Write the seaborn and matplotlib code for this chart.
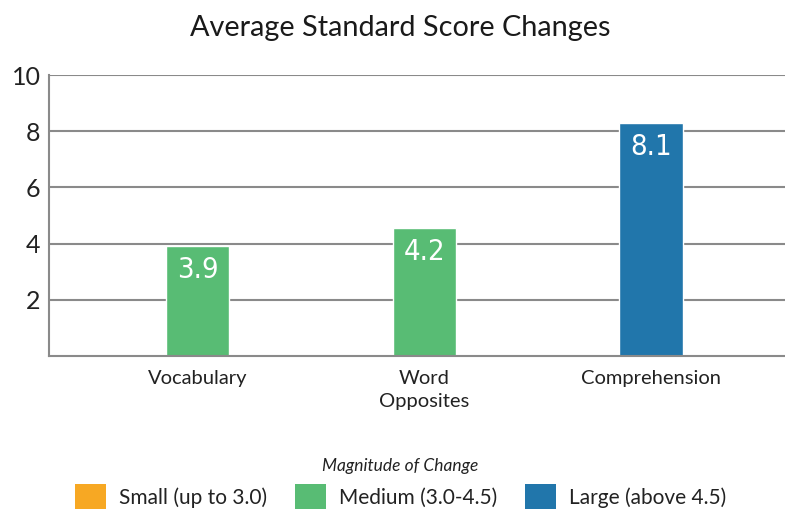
import matplotlib
matplotlib.use("Agg")
import matplotlib.pyplot as plt
from matplotlib.patches import Patch
import pandas as pd
import seaborn as sns

# values
categories = ["Vocabulary", "Word\nOpposites", "Comprehension"]
bar_heights = [3.9, 4.55, 8.3]
score_labels = ["3.9", "4.2", "8.1"]
magnitude = ["Medium (3.0-4.5)", "Medium (3.0-4.5)", "Large (above 4.5)"]
legend_levels = ["Small (up to 3.0)", "Medium (3.0-4.5)", "Large (above 4.5)"]
level_colors = ["#F7A823", "#58BC74", "#2176AB"]
y_ticks = [2, 4, 6, 8, 10]

sns.set_theme(style="white")
plt.rcParams["font.family"] = ["Lato", "DejaVu Sans"]

df = pd.DataFrame({"test": categories, "score": bar_heights, "magnitude": magnitude})
palette = dict(zip(legend_levels, level_colors))

fig = plt.figure(figsize=(7.85, 5.15), dpi=100)
ax = fig.add_axes([0.0624, 0.309, 0.9376, 0.545])
sns.barplot(data=df, x="test", y="score", hue="magnitude", hue_order=legend_levels,
            palette=palette, dodge=False, width=0.28, saturation=1,
            legend=False, ax=ax)

# value labels sit inside the top of each bar
for i, (h, lab) in enumerate(zip(bar_heights, score_labels)):
    ax.annotate(lab, (i, h), xytext=(0, -7), textcoords="offset points",
                ha="center", va="top", color="white", fontsize=21,
                family="DejaVu Sans", stretch="condensed")

ax.set_xlim(-0.656, 2.59)
ax.set_ylim(0, 10)
ax.set_yticks(y_ticks)
ax.yaxis.grid(True, color="#8a8a8a", lw=1.5)
ax.set_axisbelow(True)
for s in ["top", "right"]:
    ax.spines[s].set_visible(False)
for s in ["left", "bottom"]:
    ax.spines[s].set_color("#8a8a8a")
    ax.spines[s].set_linewidth(1.5)
ax.set_xlabel("")
ax.set_ylabel("")
ax.tick_params(axis="y", length=0, pad=6, labelsize=18, labelcolor="#222222")
ax.tick_params(axis="x", length=0, pad=10, labelsize=14.5, labelcolor="#222222")
for t in ax.get_xticklabels():
    t.set_linespacing(1.45)

fig.text(0.51, 0.946, "Average Standard Score Changes", ha="center", va="center",
         fontsize=20.8, color="#1a1a1a")

handles = [Patch(facecolor=c, edgecolor="none") for c in level_colors]
leg = fig.legend(handles, legend_levels, loc="upper center", bbox_to_anchor=(0.51, 0.148),
                 ncol=3, frameon=False, fontsize=15, title="Magnitude of Change",
                 title_fontproperties={"style": "italic", "size": 12.5},
                 handlelength=1.5, handleheight=1.5, handletextpad=0.6,
                 columnspacing=1.35)
for t in leg.get_texts():
    t.set_color("#222222")
leg.get_title().set_color("#222222")

fig.savefig("out.png", dpi=100)
